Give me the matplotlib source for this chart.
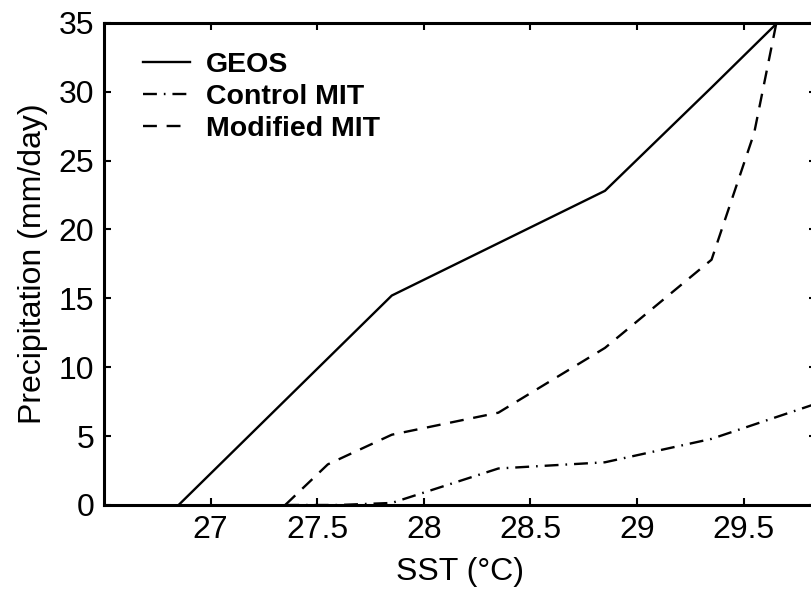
#!/usr/bin/env python3
"""Precipitation vs SST for GEOS and two MIT runs."""

import matplotlib
matplotlib.use('Agg')
import matplotlib.pyplot as plt

plt.rcParams['font.family'] = ['Liberation Sans', 'DejaVu Sans']
plt.rcParams['lines.scale_dashes'] = False

# SST bins (deg C) and precipitation (mm/day)
geos_sst = [26.85, 27.35, 27.85, 28.35, 28.85, 29.35, 29.85]
geos_precip = [0.0, 7.6, 15.2, 19.0, 22.8, 30.3, 37.9]

control_sst = [27.35, 27.6, 27.85, 28.35, 28.85, 29.35, 29.85]
control_precip = [0.0, 0.0, 0.15, 2.65, 3.1, 4.8, 7.4]

modified_sst = [27.35, 27.55, 27.85, 28.35, 28.85, 29.35, 29.55, 29.85]
modified_precip = [0.0, 2.95, 5.1, 6.7, 11.4, 17.8, 27.0, 50.0]

xticks = [27, 27.5, 28, 28.5, 29, 29.5]
xtick_labels = ['27', '27.5', '28', '28.5', '29', '29.5']
yticks = [0, 5, 10, 15, 20, 25, 30, 35]

fig = plt.figure(figsize=(8.12, 5.91), dpi=100)
ax = fig.add_axes([104 / 812, 1 - 505 / 591, 712 / 812, (505 - 22.7) / 591])

lw = 1.7
ax.plot(geos_sst, geos_precip, color='black', linewidth=lw, label='GEOS')
ax.plot(control_sst, control_precip, color='black', linewidth=lw,
        dashes=(10, 5, 1.2, 5), label='Control MIT')
ax.plot(modified_sst, modified_precip, color='black', linewidth=lw,
        dashes=(10, 7), label='Modified MIT')

ax.set_xlim(26.5, 29.84)
ax.set_ylim(0, 35)
ax.set_xticks(xticks)
ax.set_xticklabels(xtick_labels)
ax.set_yticks(yticks)

ax.tick_params(direction='in', length=5, width=1.5, labelsize=23,
               top=True, right=True, pad=7)
for spine in ax.spines.values():
    spine.set_linewidth(2.2)

ax.set_xlabel('SST (°C)', fontsize=23, labelpad=9)
ax.set_ylabel('Precipitation (mm/day)', fontsize=23, labelpad=8)

leg = ax.legend(loc='upper left', bbox_to_anchor=(0.055, 0.94), frameon=False,
                prop={'size': 20.5, 'weight': 'bold'}, handlelength=1.65,
                handletextpad=0.55, labelspacing=0.22, borderaxespad=0,
                borderpad=0)

fig.savefig('out.png', dpi=100)
